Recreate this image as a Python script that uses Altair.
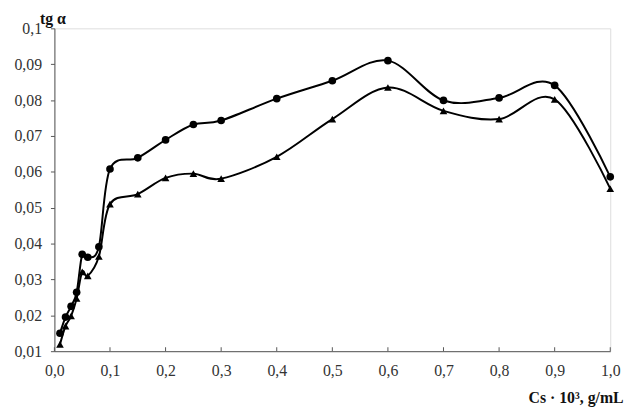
import altair as alt
import pandas as pd

cs = [0.01, 0.02, 0.03, 0.04, 0.05, 0.06, 0.08, 0.1, 0.15, 0.2, 0.25, 0.3,
      0.4, 0.5, 0.6, 0.7, 0.8, 0.9, 1.0]
circles = [0.0150, 0.0195, 0.0225, 0.0264, 0.0370, 0.0362, 0.0391, 0.0608,
           0.0639, 0.0689, 0.0732, 0.0743, 0.0804, 0.0854, 0.0910, 0.0799,
           0.0806, 0.0841, 0.0586]
triangles = [0.0119, 0.0170, 0.0198, 0.0247, 0.0321, 0.0310, 0.0364, 0.0510,
             0.0538, 0.0583, 0.0595, 0.0581, 0.0642, 0.0747, 0.0835, 0.0770,
             0.0747, 0.0802, 0.0553]
x_ticks = [0.0, 0.1, 0.2, 0.3, 0.4, 0.5, 0.6, 0.7, 0.8, 0.9, 1.0]
y_ticks = [0.01, 0.02, 0.03, 0.04, 0.05, 0.06, 0.07, 0.08, 0.09, 0.1]

rows = []
for xv, a, b in zip(cs, circles, triangles):
    rows.append({"x": xv, "y": a, "s": "A"})
    rows.append({"x": xv, "y": b, "s": "B"})
df = pd.DataFrame(rows)
ticks_df = pd.DataFrame({"x": x_ticks})

FONT = "'Liberation Serif', 'Times New Roman', serif"
W, H = 563, 327

xscale = alt.Scale(domain=[0, 1], nice=False, zero=False)
yscale = alt.Scale(domain=[0.01, 0.1], nice=False, zero=False)

x_axis = alt.Axis(
    values=x_ticks,
    labelExpr="replace(format(datum.value, '.1f'), '.', ',')",
    tickSize=0, labelPadding=12, labelFont=FONT, labelFontSize=16,
    labelColor="#333", domainColor="#555", grid=False,
    labelOverlap=False, labelFlush=False,
    title="Cs · 10³, g/mL", titleFont=FONT, titleFontSize=16,
    titleFontWeight="bold", titleColor="#111", titleAlign="right",
    titleAnchor="end", titleX=576, titleY=47, titleBaseline="middle",
)
y_axis = alt.Axis(
    values=y_ticks,
    labelExpr="datum.value >= 0.0999 ? '0,1' : replace(format(datum.value, '.2f'), '.', ',')",
    tickSize=4, tickColor="#555", labelPadding=9, labelFont=FONT,
    labelFontSize=16, labelColor="#333", domainColor="#555", grid=False,
    labelOverlap=False, labelFlush=False, labelBound=False,
    title="tg α", titleFont=FONT, titleFontSize=16, titleFontWeight="bold",
    titleColor="#111", titleAngle=0, titleAlign="center",
    titleBaseline="top", titleX=-2, titleY=-18,
)

enc_x = alt.X("x:Q", scale=xscale, axis=x_axis)
enc_y = alt.Y("y:Q", scale=yscale, axis=y_axis)

base = alt.Chart(df)
lines = base.mark_line(interpolate="cardinal", color="black", strokeWidth=2).encode(
    x=enc_x, y=enc_y, detail="s:N",
)
points = base.mark_point(filled=True, size=60, color="black", opacity=1).encode(
    x=enc_x, y=enc_y,
    shape=alt.Shape("s:N", scale=alt.Scale(domain=["A", "B"],
                                           range=["circle", "triangle-up"]),
                    legend=None),
)
xticks = alt.Chart(ticks_df).mark_rule(color="#555", strokeWidth=1).encode(
    x=enc_x,
    y=alt.value(H),
    y2=alt.value(H - 4),
)

chart = alt.layer(lines, points, xticks).properties(
    width=W, height=H,
    autosize=alt.AutoSizeParams(type="none"),
    padding={"left": 47, "top": 18, "right": 20, "bottom": 60},
).configure_view(stroke=None).configure(background="white")

chart.save("out.html", embed_options={"renderer": "svg", "actions": False})
